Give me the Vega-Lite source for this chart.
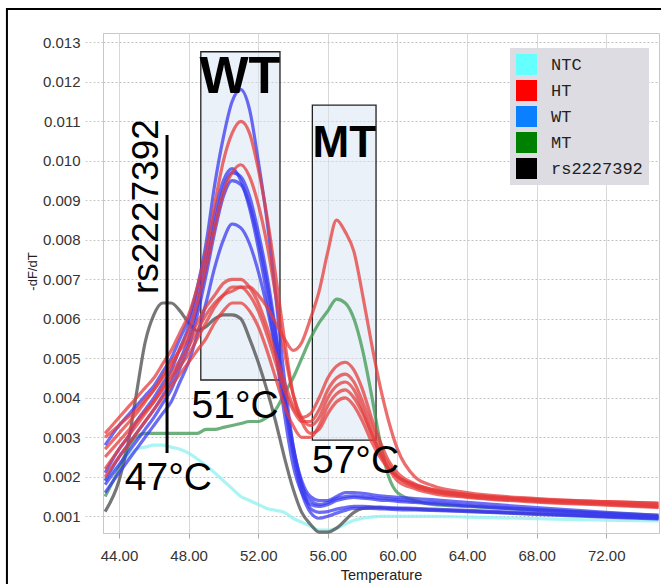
{
"$schema":"https://vega.github.io/schema/vega-lite/v6.json",
"width":556,"height":500,
"autosize":{"type":"none"},
"padding":{"left":103,"top":33,"right":2,"bottom":51},
"background":"white",
"config":{"view":{"stroke":"#c8c8c8","strokeWidth":1},"axis":{"labelFont":"Liberation Sans","titleFont":"Liberation Sans","labelColor":"#333","titleColor":"#222"}},
"layer":[
{"data":{"values":[{"t":48.7,"t2":53.25,"v":0.00445,"v2":0.01276},{"t":55.11,"t2":58.77,"v":0.00293,"v2":0.01141}]},
"mark":{"type":"rect","fill":"#d6e4f2","fillOpacity":0.5,"stroke":"#222","strokeWidth":1.3},
"encoding":{"x":{"field":"t","type":"quantitative","title":"Temperature","scale":{"domain":[43.08,75.03],"nice":false,"zero":false}},"x2":{"field":"t2"},
"y":{"field":"v","type":"quantitative","title":"-dF/dT","scale":{"domain":[0.000577,0.013235],"nice":false,"zero":false}},"y2":{"field":"v2"}}},
{"data":{"values":[
{"c":"NTC","t":43.2,"v":0.0019},{"c":"NTC","t":44,"v":0.0023},{"c":"NTC","t":44.5,"v":0.0025},{"c":"NTC","t":45,"v":0.0027},{"c":"NTC","t":45.5,"v":0.00275},{"c":"NTC","t":46,"v":0.0028},{"c":"NTC","t":46.5,"v":0.0028},{"c":"NTC","t":47,"v":0.00275},{"c":"NTC","t":47.5,"v":0.0027},{"c":"NTC","t":48,"v":0.0026},{"c":"NTC","t":48.5,"v":0.00245},{"c":"NTC","t":49,"v":0.00228},{"c":"NTC","t":49.5,"v":0.0021},{"c":"NTC","t":50,"v":0.0019},{"c":"NTC","t":50.5,"v":0.0017},{"c":"NTC","t":51,"v":0.0015},{"c":"NTC","t":51.5,"v":0.0014},{"c":"NTC","t":52,"v":0.0013},{"c":"NTC","t":52.5,"v":0.0012},{"c":"NTC","t":53,"v":0.00115},{"c":"NTC","t":53.5,"v":0.0011},{"c":"NTC","t":54,"v":0.00095},{"c":"NTC","t":54.5,"v":0.00085},{"c":"NTC","t":55,"v":0.00075},{"c":"NTC","t":55.5,"v":0.00065},{"c":"NTC","t":56,"v":0.00065},{"c":"NTC","t":56.5,"v":0.0007},{"c":"NTC","t":57,"v":0.0008},{"c":"NTC","t":57.5,"v":0.0009},{"c":"NTC","t":58,"v":0.00095},{"c":"NTC","t":58.5,"v":0.00098},{"c":"NTC","t":59,"v":0.001},{"c":"NTC","t":59.5,"v":0.001},{"c":"NTC","t":60,"v":0.001},{"c":"NTC","t":61,"v":0.001},{"c":"NTC","t":62,"v":0.001},{"c":"NTC","t":64,"v":0.00098},{"c":"NTC","t":68,"v":0.00094},{"c":"NTC","t":72,"v":0.0009},{"c":"NTC","t":75,"v":0.00088},
{"c":"RS","t":43.2,"v":0.00112},{"c":"RS","t":44,"v":0.0019},{"c":"RS","t":44.5,"v":0.0028},{"c":"RS","t":45,"v":0.0041},{"c":"RS","t":45.5,"v":0.0054},{"c":"RS","t":46,"v":0.0061},{"c":"RS","t":46.5,"v":0.0064},{"c":"RS","t":47,"v":0.0064},{"c":"RS","t":47.5,"v":0.0062},{"c":"RS","t":48,"v":0.0059},{"c":"RS","t":48.5,"v":0.0057},{"c":"RS","t":49,"v":0.0058},{"c":"RS","t":49.5,"v":0.006},{"c":"RS","t":50,"v":0.0061},{"c":"RS","t":50.5,"v":0.0061},{"c":"RS","t":51,"v":0.006},{"c":"RS","t":51.5,"v":0.0055},{"c":"RS","t":52,"v":0.0049},{"c":"RS","t":52.5,"v":0.0042},{"c":"RS","t":53,"v":0.0034},{"c":"RS","t":53.5,"v":0.0025},{"c":"RS","t":54,"v":0.0017},{"c":"RS","t":54.5,"v":0.0011},{"c":"RS","t":55,"v":0.0008},{"c":"RS","t":55.5,"v":0.0006},{"c":"RS","t":56,"v":0.0006},{"c":"RS","t":56.5,"v":0.0007},{"c":"RS","t":57,"v":0.0009},{"c":"RS","t":57.5,"v":0.0011},{"c":"RS","t":58,"v":0.0012},{"c":"RS","t":58.5,"v":0.00122},{"c":"RS","t":59,"v":0.00122},{"c":"RS","t":59.5,"v":0.0012},{"c":"RS","t":60,"v":0.0012},{"c":"RS","t":61,"v":0.00118},{"c":"RS","t":62,"v":0.00116},{"c":"RS","t":64,"v":0.00113},{"c":"RS","t":68,"v":0.00106},{"c":"RS","t":72,"v":0.001},{"c":"RS","t":75,"v":0.00095},
{"c":"MT","t":43.2,"v":0.0015},{"c":"MT","t":44,"v":0.0022},{"c":"MT","t":44.5,"v":0.0027},{"c":"MT","t":45,"v":0.003},{"c":"MT","t":45.5,"v":0.0031},{"c":"MT","t":46,"v":0.0031},{"c":"MT","t":46.5,"v":0.0031},{"c":"MT","t":47,"v":0.0031},{"c":"MT","t":47.5,"v":0.0031},{"c":"MT","t":48,"v":0.0031},{"c":"MT","t":48.5,"v":0.0031},{"c":"MT","t":49,"v":0.0032},{"c":"MT","t":49.5,"v":0.0032},{"c":"MT","t":50,"v":0.00325},{"c":"MT","t":50.5,"v":0.0033},{"c":"MT","t":51,"v":0.00335},{"c":"MT","t":51.5,"v":0.0034},{"c":"MT","t":52,"v":0.0034},{"c":"MT","t":52.5,"v":0.0035},{"c":"MT","t":53,"v":0.0037},{"c":"MT","t":53.5,"v":0.0041},{"c":"MT","t":54,"v":0.0045},{"c":"MT","t":54.5,"v":0.005},{"c":"MT","t":55,"v":0.0055},{"c":"MT","t":55.5,"v":0.0059},{"c":"MT","t":56,"v":0.0062},{"c":"MT","t":56.5,"v":0.0065},{"c":"MT","t":57,"v":0.0064},{"c":"MT","t":57.5,"v":0.006},{"c":"MT","t":58,"v":0.0052},{"c":"MT","t":58.5,"v":0.0041},{"c":"MT","t":59,"v":0.0029},{"c":"MT","t":59.5,"v":0.002},{"c":"MT","t":60,"v":0.0016},{"c":"MT","t":61,"v":0.0014},{"c":"MT","t":62,"v":0.0013},{"c":"MT","t":64,"v":0.00125},{"c":"MT","t":68,"v":0.00116},{"c":"MT","t":72,"v":0.00108},{"c":"MT","t":75,"v":0.00103},
{"c":"W1","t":43.2,"v":0.0028},{"c":"W1","t":44,"v":0.0033},{"c":"W1","t":44.5,"v":0.00355},{"c":"W1","t":45,"v":0.0038},{"c":"W1","t":45.5,"v":0.00405},{"c":"W1","t":46,"v":0.0043},{"c":"W1","t":46.5,"v":0.00465},{"c":"W1","t":47,"v":0.005},{"c":"W1","t":47.5,"v":0.0055},{"c":"W1","t":48,"v":0.006},{"c":"W1","t":48.5,"v":0.0068},{"c":"W1","t":49,"v":0.0079},{"c":"W1","t":49.5,"v":0.0094},{"c":"W1","t":50,"v":0.0106},{"c":"W1","t":50.5,"v":0.0115},{"c":"W1","t":51,"v":0.0118},{"c":"W1","t":51.5,"v":0.0113},{"c":"W1","t":52,"v":0.01},{"c":"W1","t":52.5,"v":0.0085},{"c":"W1","t":53,"v":0.0066},{"c":"W1","t":53.5,"v":0.0045},{"c":"W1","t":54,"v":0.0028},{"c":"W1","t":54.5,"v":0.0019},{"c":"W1","t":55,"v":0.0015},{"c":"W1","t":55.5,"v":0.0014},{"c":"W1","t":56,"v":0.0014},{"c":"W1","t":56.5,"v":0.0015},{"c":"W1","t":57,"v":0.0016},{"c":"W1","t":57.5,"v":0.0016},{"c":"W1","t":58,"v":0.00158},{"c":"W1","t":58.5,"v":0.00155},{"c":"W1","t":59,"v":0.00152},{"c":"W1","t":59.5,"v":0.0015},{"c":"W1","t":60,"v":0.00148},{"c":"W1","t":61,"v":0.00145},{"c":"W1","t":62,"v":0.00142},{"c":"W1","t":64,"v":0.00135},{"c":"W1","t":68,"v":0.00122},{"c":"W1","t":72,"v":0.0011},{"c":"W1","t":75,"v":0.00102},
{"c":"W2","t":43.2,"v":0.0021},{"c":"W2","t":44,"v":0.0027},{"c":"W2","t":44.5,"v":0.003},{"c":"W2","t":45,"v":0.0034},{"c":"W2","t":45.5,"v":0.0037},{"c":"W2","t":46,"v":0.004},{"c":"W2","t":46.5,"v":0.00435},{"c":"W2","t":47,"v":0.0047},{"c":"W2","t":47.5,"v":0.00525},{"c":"W2","t":48,"v":0.0058},{"c":"W2","t":48.5,"v":0.0066},{"c":"W2","t":49,"v":0.0076},{"c":"W2","t":49.5,"v":0.0087},{"c":"W2","t":50,"v":0.0095},{"c":"W2","t":50.5,"v":0.0098},{"c":"W2","t":51,"v":0.0095},{"c":"W2","t":51.5,"v":0.0088},{"c":"W2","t":52,"v":0.0078},{"c":"W2","t":52.5,"v":0.0066},{"c":"W2","t":53,"v":0.0052},{"c":"W2","t":53.5,"v":0.0036},{"c":"W2","t":54,"v":0.0023},{"c":"W2","t":54.5,"v":0.0016},{"c":"W2","t":55,"v":0.0013},{"c":"W2","t":55.5,"v":0.00125},{"c":"W2","t":56,"v":0.0013},{"c":"W2","t":56.5,"v":0.0014},{"c":"W2","t":57,"v":0.00145},{"c":"W2","t":57.5,"v":0.00148},{"c":"W2","t":58,"v":0.00146},{"c":"W2","t":58.5,"v":0.00144},{"c":"W2","t":59,"v":0.00141},{"c":"W2","t":59.5,"v":0.0014},{"c":"W2","t":60,"v":0.00138},{"c":"W2","t":61,"v":0.00135},{"c":"W2","t":62,"v":0.00132},{"c":"W2","t":64,"v":0.00126},{"c":"W2","t":68,"v":0.00115},{"c":"W2","t":72,"v":0.00105},{"c":"W2","t":75,"v":0.00098},
{"c":"W3","t":43.2,"v":0.0019},{"c":"W3","t":44,"v":0.0025},{"c":"W3","t":44.5,"v":0.0028},{"c":"W3","t":45,"v":0.0031},{"c":"W3","t":45.5,"v":0.0034},{"c":"W3","t":46,"v":0.0037},{"c":"W3","t":46.5,"v":0.00405},{"c":"W3","t":47,"v":0.0044},{"c":"W3","t":47.5,"v":0.00495},{"c":"W3","t":48,"v":0.0055},{"c":"W3","t":48.5,"v":0.0063},{"c":"W3","t":49,"v":0.0073},{"c":"W3","t":49.5,"v":0.0084},{"c":"W3","t":50,"v":0.0093},{"c":"W3","t":50.5,"v":0.0097},{"c":"W3","t":51,"v":0.0096},{"c":"W3","t":51.5,"v":0.0091},{"c":"W3","t":52,"v":0.0082},{"c":"W3","t":52.5,"v":0.0071},{"c":"W3","t":53,"v":0.0057},{"c":"W3","t":53.5,"v":0.0041},{"c":"W3","t":54,"v":0.0027},{"c":"W3","t":54.5,"v":0.0018},{"c":"W3","t":55,"v":0.0014},{"c":"W3","t":55.5,"v":0.0013},{"c":"W3","t":56,"v":0.00135},{"c":"W3","t":56.5,"v":0.00145},{"c":"W3","t":57,"v":0.0015},{"c":"W3","t":57.5,"v":0.00152},{"c":"W3","t":58,"v":0.0015},{"c":"W3","t":58.5,"v":0.00148},{"c":"W3","t":59,"v":0.00146},{"c":"W3","t":59.5,"v":0.00144},{"c":"W3","t":60,"v":0.00142},{"c":"W3","t":61,"v":0.00138},{"c":"W3","t":62,"v":0.00135},{"c":"W3","t":64,"v":0.00128},{"c":"W3","t":68,"v":0.00117},{"c":"W3","t":72,"v":0.00107},{"c":"W3","t":75,"v":0.001},
{"c":"W4","t":43.2,"v":0.0018},{"c":"W4","t":44,"v":0.0023},{"c":"W4","t":44.5,"v":0.0026},{"c":"W4","t":45,"v":0.0029},{"c":"W4","t":45.5,"v":0.0032},{"c":"W4","t":46,"v":0.0035},{"c":"W4","t":46.5,"v":0.00385},{"c":"W4","t":47,"v":0.0042},{"c":"W4","t":47.5,"v":0.00475},{"c":"W4","t":48,"v":0.0053},{"c":"W4","t":48.5,"v":0.0061},{"c":"W4","t":49,"v":0.0071},{"c":"W4","t":49.5,"v":0.0082},{"c":"W4","t":50,"v":0.0091},{"c":"W4","t":50.5,"v":0.0095},{"c":"W4","t":51,"v":0.0094},{"c":"W4","t":51.5,"v":0.0089},{"c":"W4","t":52,"v":0.008},{"c":"W4","t":52.5,"v":0.0069},{"c":"W4","t":53,"v":0.0056},{"c":"W4","t":53.5,"v":0.0041},{"c":"W4","t":54,"v":0.0028},{"c":"W4","t":54.5,"v":0.0018},{"c":"W4","t":55,"v":0.0012},{"c":"W4","t":55.5,"v":0.0011},{"c":"W4","t":56,"v":0.00112},{"c":"W4","t":56.5,"v":0.00118},{"c":"W4","t":57,"v":0.00122},{"c":"W4","t":57.5,"v":0.00125},{"c":"W4","t":58,"v":0.00125},{"c":"W4","t":58.5,"v":0.00124},{"c":"W4","t":59,"v":0.00123},{"c":"W4","t":59.5,"v":0.00122},{"c":"W4","t":60,"v":0.00121},{"c":"W4","t":61,"v":0.0012},{"c":"W4","t":62,"v":0.00118},{"c":"W4","t":64,"v":0.00115},{"c":"W4","t":68,"v":0.00108},{"c":"W4","t":72,"v":0.001},{"c":"W4","t":75,"v":0.00095},
{"c":"W5","t":43.2,"v":0.0016},{"c":"W5","t":44,"v":0.0021},{"c":"W5","t":44.5,"v":0.0024},{"c":"W5","t":45,"v":0.0027},{"c":"W5","t":45.5,"v":0.003},{"c":"W5","t":46,"v":0.0033},{"c":"W5","t":46.5,"v":0.0036},{"c":"W5","t":47,"v":0.0039},{"c":"W5","t":47.5,"v":0.0044},{"c":"W5","t":48,"v":0.0049},{"c":"W5","t":48.5,"v":0.0056},{"c":"W5","t":49,"v":0.0064},{"c":"W5","t":49.5,"v":0.0073},{"c":"W5","t":50,"v":0.008},{"c":"W5","t":50.5,"v":0.0084},{"c":"W5","t":51,"v":0.0083},{"c":"W5","t":51.5,"v":0.0079},{"c":"W5","t":52,"v":0.0072},{"c":"W5","t":52.5,"v":0.0063},{"c":"W5","t":53,"v":0.0052},{"c":"W5","t":53.5,"v":0.0039},{"c":"W5","t":54,"v":0.0026},{"c":"W5","t":54.5,"v":0.0016},{"c":"W5","t":55,"v":0.0011},{"c":"W5","t":55.5,"v":0.00095},{"c":"W5","t":56,"v":0.001},{"c":"W5","t":56.5,"v":0.00108},{"c":"W5","t":57,"v":0.00115},{"c":"W5","t":57.5,"v":0.0012},{"c":"W5","t":58,"v":0.0012},{"c":"W5","t":58.5,"v":0.0012},{"c":"W5","t":59,"v":0.00119},{"c":"W5","t":59.5,"v":0.00118},{"c":"W5","t":60,"v":0.00117},{"c":"W5","t":61,"v":0.00116},{"c":"W5","t":62,"v":0.00115},{"c":"W5","t":64,"v":0.00112},{"c":"W5","t":68,"v":0.00105},{"c":"W5","t":72,"v":0.00098},{"c":"W5","t":75,"v":0.00093},
{"c":"H1","t":43.2,"v":0.0031},{"c":"H1","t":44,"v":0.0035},{"c":"H1","t":44.5,"v":0.00375},{"c":"H1","t":45,"v":0.004},{"c":"H1","t":45.5,"v":0.00425},{"c":"H1","t":46,"v":0.0045},{"c":"H1","t":46.5,"v":0.00485},{"c":"H1","t":47,"v":0.0052},{"c":"H1","t":47.5,"v":0.00565},{"c":"H1","t":48,"v":0.0061},{"c":"H1","t":48.5,"v":0.0068},{"c":"H1","t":49,"v":0.0077},{"c":"H1","t":49.5,"v":0.0089},{"c":"H1","t":50,"v":0.01},{"c":"H1","t":50.5,"v":0.0107},{"c":"H1","t":51,"v":0.011},{"c":"H1","t":51.5,"v":0.0107},{"c":"H1","t":52,"v":0.0098},{"c":"H1","t":52.5,"v":0.0086},{"c":"H1","t":53,"v":0.0071},{"c":"H1","t":53.5,"v":0.0055},{"c":"H1","t":54,"v":0.0041},{"c":"H1","t":54.5,"v":0.0034},{"c":"H1","t":55,"v":0.0031},{"c":"H1","t":55.5,"v":0.0032},{"c":"H1","t":56,"v":0.0036},{"c":"H1","t":56.5,"v":0.0039},{"c":"H1","t":57,"v":0.004},{"c":"H1","t":57.5,"v":0.0038},{"c":"H1","t":58,"v":0.0034},{"c":"H1","t":58.5,"v":0.0029},{"c":"H1","t":59,"v":0.0025},{"c":"H1","t":59.5,"v":0.0022},{"c":"H1","t":60,"v":0.002},{"c":"H1","t":61,"v":0.00178},{"c":"H1","t":62,"v":0.00165},{"c":"H1","t":64,"v":0.00152},{"c":"H1","t":68,"v":0.0014},{"c":"H1","t":72,"v":0.00132},{"c":"H1","t":75,"v":0.00125},
{"c":"H2","t":43.2,"v":0.003},{"c":"H2","t":44,"v":0.0033},{"c":"H2","t":44.5,"v":0.0035},{"c":"H2","t":45,"v":0.0037},{"c":"H2","t":45.5,"v":0.00395},{"c":"H2","t":46,"v":0.0042},{"c":"H2","t":46.5,"v":0.0045},{"c":"H2","t":47,"v":0.0048},{"c":"H2","t":47.5,"v":0.00525},{"c":"H2","t":48,"v":0.0057},{"c":"H2","t":48.5,"v":0.0064},{"c":"H2","t":49,"v":0.0073},{"c":"H2","t":49.5,"v":0.0083},{"c":"H2","t":50,"v":0.0092},{"c":"H2","t":50.5,"v":0.0097},{"c":"H2","t":51,"v":0.0099},{"c":"H2","t":51.5,"v":0.0096},{"c":"H2","t":52,"v":0.0089},{"c":"H2","t":52.5,"v":0.0079},{"c":"H2","t":53,"v":0.0066},{"c":"H2","t":53.5,"v":0.0052},{"c":"H2","t":54,"v":0.0041},{"c":"H2","t":54.5,"v":0.0035},{"c":"H2","t":55,"v":0.0033},{"c":"H2","t":55.5,"v":0.0035},{"c":"H2","t":56,"v":0.004},{"c":"H2","t":56.5,"v":0.0043},{"c":"H2","t":57,"v":0.0044},{"c":"H2","t":57.5,"v":0.0042},{"c":"H2","t":58,"v":0.0037},{"c":"H2","t":58.5,"v":0.0031},{"c":"H2","t":59,"v":0.0026},{"c":"H2","t":59.5,"v":0.0022},{"c":"H2","t":60,"v":0.002},{"c":"H2","t":61,"v":0.0018},{"c":"H2","t":62,"v":0.00168},{"c":"H2","t":64,"v":0.00155},{"c":"H2","t":68,"v":0.00143},{"c":"H2","t":72,"v":0.00137},{"c":"H2","t":75,"v":0.00133},
{"c":"H3","t":43.2,"v":0.0027},{"c":"H3","t":44,"v":0.0031},{"c":"H3","t":44.5,"v":0.00335},{"c":"H3","t":45,"v":0.0036},{"c":"H3","t":45.5,"v":0.0039},{"c":"H3","t":46,"v":0.0042},{"c":"H3","t":46.5,"v":0.00455},{"c":"H3","t":47,"v":0.0049},{"c":"H3","t":47.5,"v":0.0052},{"c":"H3","t":48,"v":0.0055},{"c":"H3","t":48.5,"v":0.0059},{"c":"H3","t":49,"v":0.0063},{"c":"H3","t":49.5,"v":0.0066},{"c":"H3","t":50,"v":0.0069},{"c":"H3","t":50.5,"v":0.007},{"c":"H3","t":51,"v":0.007},{"c":"H3","t":51.5,"v":0.0068},{"c":"H3","t":52,"v":0.0064},{"c":"H3","t":52.5,"v":0.0058},{"c":"H3","t":53,"v":0.0051},{"c":"H3","t":53.5,"v":0.0044},{"c":"H3","t":54,"v":0.0038},{"c":"H3","t":54.5,"v":0.0035},{"c":"H3","t":55,"v":0.0036},{"c":"H3","t":55.5,"v":0.004},{"c":"H3","t":56,"v":0.0045},{"c":"H3","t":56.5,"v":0.0048},{"c":"H3","t":57,"v":0.0049},{"c":"H3","t":57.5,"v":0.0047},{"c":"H3","t":58,"v":0.0042},{"c":"H3","t":58.5,"v":0.0035},{"c":"H3","t":59,"v":0.0029},{"c":"H3","t":59.5,"v":0.0024},{"c":"H3","t":60,"v":0.0021},{"c":"H3","t":61,"v":0.00182},{"c":"H3","t":62,"v":0.00168},{"c":"H3","t":64,"v":0.00155},{"c":"H3","t":68,"v":0.00142},{"c":"H3","t":72,"v":0.00134},{"c":"H3","t":75,"v":0.00128},
{"c":"H4","t":43.2,"v":0.0025},{"c":"H4","t":44,"v":0.0029},{"c":"H4","t":44.5,"v":0.00315},{"c":"H4","t":45,"v":0.0034},{"c":"H4","t":45.5,"v":0.00365},{"c":"H4","t":46,"v":0.0039},{"c":"H4","t":46.5,"v":0.0042},{"c":"H4","t":47,"v":0.0045},{"c":"H4","t":47.5,"v":0.0048},{"c":"H4","t":48,"v":0.0051},{"c":"H4","t":48.5,"v":0.0055},{"c":"H4","t":49,"v":0.0059},{"c":"H4","t":49.5,"v":0.0063},{"c":"H4","t":50,"v":0.0066},{"c":"H4","t":50.5,"v":0.0068},{"c":"H4","t":51,"v":0.0068},{"c":"H4","t":51.5,"v":0.0066},{"c":"H4","t":52,"v":0.0062},{"c":"H4","t":52.5,"v":0.0056},{"c":"H4","t":53,"v":0.0049},{"c":"H4","t":53.5,"v":0.0042},{"c":"H4","t":54,"v":0.0037},{"c":"H4","t":54.5,"v":0.0034},{"c":"H4","t":55,"v":0.0034},{"c":"H4","t":55.5,"v":0.0037},{"c":"H4","t":56,"v":0.0042},{"c":"H4","t":56.5,"v":0.0045},{"c":"H4","t":57,"v":0.0046},{"c":"H4","t":57.5,"v":0.0044},{"c":"H4","t":58,"v":0.0039},{"c":"H4","t":58.5,"v":0.0033},{"c":"H4","t":59,"v":0.0027},{"c":"H4","t":59.5,"v":0.0023},{"c":"H4","t":60,"v":0.002},{"c":"H4","t":61,"v":0.00175},{"c":"H4","t":62,"v":0.00162},{"c":"H4","t":64,"v":0.0015},{"c":"H4","t":68,"v":0.00138},{"c":"H4","t":72,"v":0.0013},{"c":"H4","t":75,"v":0.00124},
{"c":"H5","t":43.2,"v":0.0022},{"c":"H5","t":44,"v":0.0027},{"c":"H5","t":44.5,"v":0.003},{"c":"H5","t":45,"v":0.0033},{"c":"H5","t":45.5,"v":0.0036},{"c":"H5","t":46,"v":0.0039},{"c":"H5","t":46.5,"v":0.00425},{"c":"H5","t":47,"v":0.0046},{"c":"H5","t":47.5,"v":0.00495},{"c":"H5","t":48,"v":0.0053},{"c":"H5","t":48.5,"v":0.0057},{"c":"H5","t":49,"v":0.0061},{"c":"H5","t":49.5,"v":0.0064},{"c":"H5","t":50,"v":0.0066},{"c":"H5","t":50.5,"v":0.0067},{"c":"H5","t":51,"v":0.0068},{"c":"H5","t":51.5,"v":0.0068},{"c":"H5","t":52,"v":0.0066},{"c":"H5","t":52.5,"v":0.0063},{"c":"H5","t":53,"v":0.0059},{"c":"H5","t":53.5,"v":0.0055},{"c":"H5","t":54,"v":0.0052},{"c":"H5","t":54.5,"v":0.0054},{"c":"H5","t":55,"v":0.006},{"c":"H5","t":55.5,"v":0.0067},{"c":"H5","t":56,"v":0.0077},{"c":"H5","t":56.5,"v":0.0085},{"c":"H5","t":57,"v":0.0082},{"c":"H5","t":57.5,"v":0.0077},{"c":"H5","t":58,"v":0.0066},{"c":"H5","t":58.5,"v":0.0054},{"c":"H5","t":59,"v":0.0043},{"c":"H5","t":59.5,"v":0.0034},{"c":"H5","t":60,"v":0.0027},{"c":"H5","t":61,"v":0.002},{"c":"H5","t":62,"v":0.00178},{"c":"H5","t":64,"v":0.0016},{"c":"H5","t":68,"v":0.00145},{"c":"H5","t":72,"v":0.00137},{"c":"H5","t":75,"v":0.00133},
{"c":"H6","t":43.2,"v":0.002},{"c":"H6","t":44,"v":0.0025},{"c":"H6","t":44.5,"v":0.0028},{"c":"H6","t":45,"v":0.0031},{"c":"H6","t":45.5,"v":0.0034},{"c":"H6","t":46,"v":0.0037},{"c":"H6","t":46.5,"v":0.004},{"c":"H6","t":47,"v":0.0043},{"c":"H6","t":47.5,"v":0.0046},{"c":"H6","t":48,"v":0.0049},{"c":"H6","t":48.5,"v":0.0052},{"c":"H6","t":49,"v":0.0055},{"c":"H6","t":49.5,"v":0.0059},{"c":"H6","t":50,"v":0.0062},{"c":"H6","t":50.5,"v":0.0064},{"c":"H6","t":51,"v":0.0064},{"c":"H6","t":51.5,"v":0.0062},{"c":"H6","t":52,"v":0.0058},{"c":"H6","t":52.5,"v":0.0052},{"c":"H6","t":53,"v":0.0045},{"c":"H6","t":53.5,"v":0.0038},{"c":"H6","t":54,"v":0.0033},{"c":"H6","t":54.5,"v":0.003},{"c":"H6","t":55,"v":0.003},{"c":"H6","t":55.5,"v":0.0033},{"c":"H6","t":56,"v":0.0038},{"c":"H6","t":56.5,"v":0.0041},{"c":"H6","t":57,"v":0.0042},{"c":"H6","t":57.5,"v":0.004},{"c":"H6","t":58,"v":0.0036},{"c":"H6","t":58.5,"v":0.0031},{"c":"H6","t":59,"v":0.0026},{"c":"H6","t":59.5,"v":0.0022},{"c":"H6","t":60,"v":0.0019},{"c":"H6","t":61,"v":0.0017},{"c":"H6","t":62,"v":0.00158},{"c":"H6","t":64,"v":0.00148},{"c":"H6","t":68,"v":0.00136},{"c":"H6","t":72,"v":0.00128},{"c":"H6","t":75,"v":0.00122}
]},
"mark":{"type":"line","interpolate":"monotone","strokeWidth":3.2,"opacity":0.75},
"encoding":{
"x":{"field":"t","type":"quantitative","title":"Temperature","scale":{"domain":[43.08,75.03],"nice":false,"zero":false},
"axis":{"values":[44,45,46,47,48,49,50,51,52,53,54,55,56,57,58,59,60,61,62,63,64,65,66,67,68,69,70,71,72,73,74,75],"labelExpr":"datum.value % 4 == 0 ? format(datum.value, '.2f') : ''","labelFontSize":15,"tickSize":5,"tickColor":"#aaaaaa","labelPadding":10,"domainColor":"#c8c8c8","grid":true,"gridColor":"#d8d8d8","gridOpacity":{"condition":{"test":"datum.value % 4 == 0","value":1},"value":0},"title":"Temperature","titleFontSize":14.5,"titleFontWeight":"normal","titleY":46,"titleBaseline":"alphabetic"}},
"y":{"field":"v","type":"quantitative","title":"-dF/dT","scale":{"domain":[0.000577,0.013235],"nice":false,"zero":false},
"axis":{"values":[0.001,0.002,0.003,0.004,0.005,0.006,0.007,0.008,0.009,0.01,0.011,0.012,0.013],"format":".3f","labelFontSize":15,"tickSize":20,"tickDash":[2,2],"tickColor":"#c8c8c8","labelPadding":3,"domainColor":"#c8c8c8","grid":true,"gridDash":[2,2],"gridColor":"#c0c0c0","title":"-dF/dT","titleFontSize":13,"titleFontWeight":"normal","titleX":-67,"titleY":238,"titleAngle":270,"titleAlign":"center","titleBaseline":"alphabetic"}},
"detail":{"field":"c"},
"stroke":{"field":"c","type":"nominal","legend":null,"scale":{"domain":["NTC","RS","MT","W1","W2","W3","W4","W5","H1","H2","H3","H4","H5","H6"],"range":["#8ef0f0","#4a4a4a","#3c9650","#3a3af0","#3a3af0","#3a3af0","#3a3af0","#3a3af0","#e63c3c","#e63c3c","#e63c3c","#e63c3c","#e63c3c","#e63c3c"]}}}},
{"data":{"values":[{"t":46.76,"v":0.01065,"v2":0.0026}]},
"mark":{"type":"rule","color":"black","strokeWidth":3},
"encoding":{"x":{"field":"t","type":"quantitative","title":"Temperature"},"y":{"field":"v","type":"quantitative","title":"-dF/dT"},"y2":{"field":"v2"}}},
{"data":{"values":[{"label":"WT","t":50.95,"v":0.01172}]},
"mark":{"type":"text","font":"Liberation Sans","fontWeight":"bold","fontSize":52,"align":"center","baseline":"alphabetic","color":"black"},
"encoding":{"x":{"field":"t","type":"quantitative","title":"Temperature"},"y":{"field":"v","type":"quantitative","title":"-dF/dT"},"text":{"field":"label"}}},
{"data":{"values":[{"label":"MT","t":56.95,"v":0.0101}]},
"mark":{"type":"text","font":"Liberation Sans","fontWeight":"bold","fontSize":44,"align":"center","baseline":"alphabetic","color":"black"},
"encoding":{"x":{"field":"t","type":"quantitative","title":"Temperature"},"y":{"field":"v","type":"quantitative","title":"-dF/dT"},"text":{"field":"label"}}},
{"data":{"values":[{"label":"51°C","t":50.67,"v":0.00349},{"label":"57°C","t":57.59,"v":0.0021},{"label":"47°C","t":46.84,"v":0.00167}]},
"mark":{"type":"text","font":"Liberation Sans","fontSize":39,"align":"center","baseline":"alphabetic","color":"black"},
"encoding":{"x":{"field":"t","type":"quantitative","title":"Temperature"},"y":{"field":"v","type":"quantitative","title":"-dF/dT"},"text":{"field":"label"}}},
{"data":{"values":[{"label":"rs2227392","t":46.24,"v":0.00884}]},
"mark":{"type":"text","font":"Liberation Sans","fontSize":37,"angle":270,"align":"center","baseline":"alphabetic","color":"black"},
"encoding":{"x":{"field":"t","type":"quantitative","title":"Temperature"},"y":{"field":"v","type":"quantitative","title":"-dF/dT"},"text":{"field":"label"}}},
{"data":{"values":[{"t":37.56,"t2":80,"v":0.013843,"v2":-0.003}]},
"mark":{"type":"rect","fill":"white","fillOpacity":0,"stroke":"black","strokeWidth":2},
"encoding":{"x":{"field":"t","type":"quantitative","title":"Temperature"},"x2":{"field":"t2"},"y":{"field":"v","type":"quantitative","title":"-dF/dT"},"y2":{"field":"v2"}}},
{"data":{"values":[{"g":"NTC"},{"g":"HT"},{"g":"WT"},{"g":"MT"},{"g":"rs2227392"}]},
"mark":{"type":"square","opacity":0},
"encoding":{"fill":{"field":"g","type":"nominal","scale":{"domain":["NTC","HT","WT","MT","rs2227392"],"range":["#66ffff","#ff0000","#0a80ff","#008000","#000000"]},
"legend":{"title":null,"orient":"none","legendX":407,"legendY":15,"fillColor":"#dcdce2","padding":6,"symbolType":"square","symbolSize":441,"symbolStrokeWidth":0,"symbolOpacity":1,"labelFont":"Liberation Mono","labelFontSize":17,"labelColor":"#222","labelOffset":14,"rowPadding":5}}}}
]
}
